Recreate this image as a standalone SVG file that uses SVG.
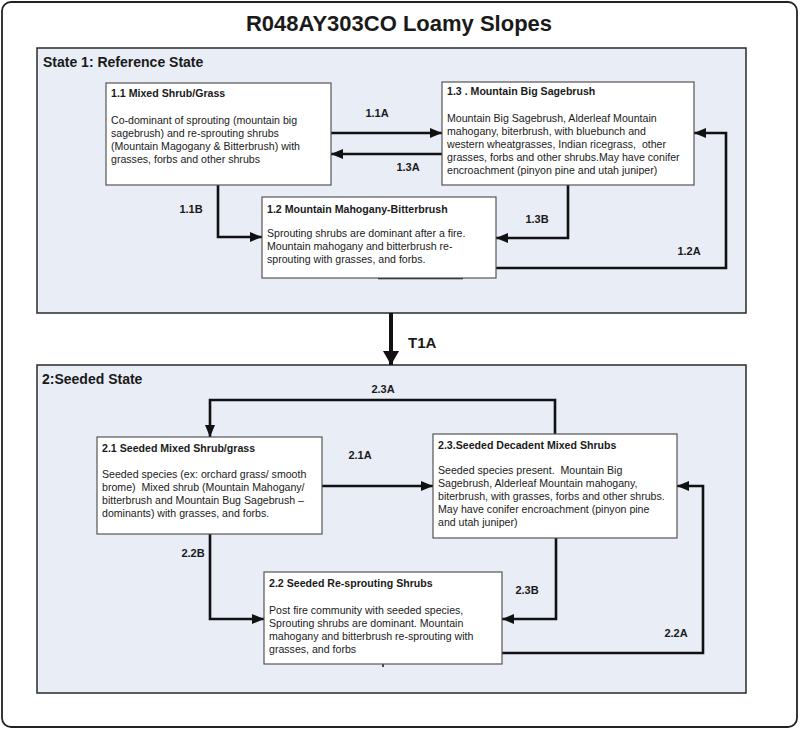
<svg xmlns="http://www.w3.org/2000/svg" width="800" height="730" viewBox="0 0 800 730">
<style>
text{font-family:"Liberation Sans",Arial,sans-serif;fill:#1a1a1a;white-space:pre}
.title{font-size:22px;font-weight:bold;text-anchor:middle}
.state{fill:#e9edf5;stroke:#2a2a2a;stroke-width:1.5}
.slabel{font-size:14px;font-weight:bold}
.box{fill:#ffffff;stroke:#555555;stroke-width:1.2}
.bt{font-size:10.6px;font-weight:bold}
.bd{font-size:10.6px}
.cl{font-size:11px;font-weight:bold;text-anchor:middle}
.c{fill:none;stroke:#111111;stroke-width:2.6}
</style>
<defs>
<marker id="ah" viewBox="0 0 12 10" refX="12" refY="5" markerWidth="12" markerHeight="10" markerUnits="userSpaceOnUse" orient="auto">
<path d="M0,0 L12,5 L0,10 z" fill="#111111"/>
</marker>
<marker id="big" viewBox="0 0 14 16" refX="14" refY="8" markerWidth="14" markerHeight="16" markerUnits="userSpaceOnUse" orient="auto">
<path d="M0,0 L14,8 L0,16 z" fill="#111111"/>
</marker>
</defs>
<rect x="0" y="0" width="800" height="730" fill="#ffffff"/>
<rect x="2" y="2" width="795" height="725" rx="9" fill="#ffffff" stroke="#222222" stroke-width="1.8"/>
<text class="title" x="399" y="31">R048AY303CO Loamy Slopes</text>

<g id="state1">
<rect class="state" x="37" y="48" width="709" height="265"/>
<text class="slabel" x="43" y="67">State 1: Reference State</text>
</g>
<g id="state2">
<rect class="state" x="37" y="365" width="709" height="328"/>
<text class="slabel" x="42" y="384">2:Seeded State</text>
</g>

<g id="connectors">
<path class="c" d="M331,133 H442" marker-end="url(#ah)"/>
<path class="c" d="M442,154 H331" marker-end="url(#ah)"/>
<path class="c" d="M218,185 V237 H262" marker-end="url(#ah)"/>
<path class="c" d="M568,185 V238 H496" marker-end="url(#ah)"/>
<path class="c" d="M496,268 H726 V133 H694" marker-end="url(#ah)"/>
<path class="c" d="M378,278 H463"/>
<path d="M391,313 V365" fill="none" stroke="#111111" stroke-width="4" marker-end="url(#big)"/>
<path class="c" d="M555,434 V400 H210 V437" marker-end="url(#ah)"/>
<path class="c" d="M322,486 H433" marker-end="url(#ah)"/>
<path class="c" d="M210,534 V619 H264" marker-end="url(#ah)"/>
<path class="c" d="M556,538 V619 H502" marker-end="url(#ah)"/>
<path class="c" d="M502,653 H703 V486 H677" marker-end="url(#ah)"/>
<path d="M383,664 V667" stroke="#111111" stroke-width="1.5"/>
<text class="cl" x="377" y="117">1.1A</text>
<text class="cl" x="408" y="171">1.3A</text>
<text class="cl" x="191" y="213">1.1B</text>
<text class="cl" x="537" y="223">1.3B</text>
<text class="cl" x="689" y="255">1.2A</text>
<text x="408" y="348" style="font-size:15px;font-weight:bold">T1A</text>
<text class="cl" x="383" y="393">2.3A</text>
<text class="cl" x="360" y="459">2.1A</text>
<text class="cl" x="193" y="557">2.2B</text>
<text class="cl" x="527" y="594">2.3B</text>
<text class="cl" x="676" y="637">2.2A</text>
</g>

<g id="n11">
<rect class="box" x="106" y="83" width="225" height="102"/>
<text class="bt" x="111" y="97">1.1 Mixed Shrub/Grass</text>
<text class="bd" x="111" y="124">Co-dominant of sprouting (mountain big</text>
<text class="bd" x="111" y="137">sagebrush) and re-sprouting shrubs</text>
<text class="bd" x="111" y="150">(Mountain Magogany &amp; Bitterbrush) with</text>
<text class="bd" x="111" y="163">grasses, forbs and other shrubs</text>
</g>

<g id="n13">
<rect class="box" x="442" y="82" width="252" height="103"/>
<text class="bt" x="447" y="95">1.3 . Mountain Big Sagebrush</text>
<text class="bd" x="447" y="122">Mountain Big Sagebrush, Alderleaf Mountain</text>
<text class="bd" x="447" y="135">mahogany, biterbrush, with bluebunch and</text>
<text class="bd" x="447" y="148">western wheatgrasses, Indian ricegrass,  other</text>
<text class="bd" x="447" y="161">grasses, forbs and other shrubs.May have conifer</text>
<text class="bd" x="447" y="174">encroachment (pinyon pine and utah juniper)</text>
</g>

<g id="n12">
<rect class="box" x="262" y="197" width="234" height="81"/>
<text class="bt" x="267" y="213">1.2 Mountain Mahogany-Bitterbrush</text>
<text class="bd" x="267" y="237">Sprouting shrubs are dominant after a fire.</text>
<text class="bd" x="267" y="250">Mountain mahogany and bitterbrush re-</text>
<text class="bd" x="267" y="263">sprouting with grasses, and forbs.</text>
</g>

<g id="n21">
<rect class="box" x="97" y="437" width="225" height="97"/>
<text class="bt" x="102" y="452">2.1 Seeded Mixed Shrub/grass</text>
<text class="bd" x="102" y="478">Seeded species (ex: orchard grass/ smooth</text>
<text class="bd" x="102" y="491">brome)  Mixed shrub (Mountain Mahogany/</text>
<text class="bd" x="102" y="504">bitterbrush and Mountain Bug Sagebrush –</text>
<text class="bd" x="102" y="517">dominants) with grasses, and forbs.</text>
</g>

<g id="n23">
<rect class="box" x="433" y="434" width="244" height="104"/>
<text class="bt" x="438" y="449">2.3.Seeded Decadent Mixed Shrubs</text>
<text class="bd" x="438" y="474">Seeded species present.  Mountain Big</text>
<text class="bd" x="438" y="487">Sagebrush, Alderleaf Mountain mahogany,</text>
<text class="bd" x="438" y="500">biterbrush, with grasses, forbs and other shrubs.</text>
<text class="bd" x="438" y="513">May have conifer encroachment (pinyon pine</text>
<text class="bd" x="438" y="526">and utah juniper)</text>
</g>

<g id="n22">
<rect class="box" x="264" y="572" width="238" height="92"/>
<text class="bt" x="269" y="587">2.2 Seeded Re-sprouting Shrubs</text>
<text class="bd" x="269" y="614">Post fire community with seeded species,</text>
<text class="bd" x="269" y="627">Sprouting shrubs are dominant. Mountain</text>
<text class="bd" x="269" y="640">mahogany and bitterbrush re-sprouting with</text>
<text class="bd" x="269" y="653">grasses, and forbs</text>
</g>
</svg>
